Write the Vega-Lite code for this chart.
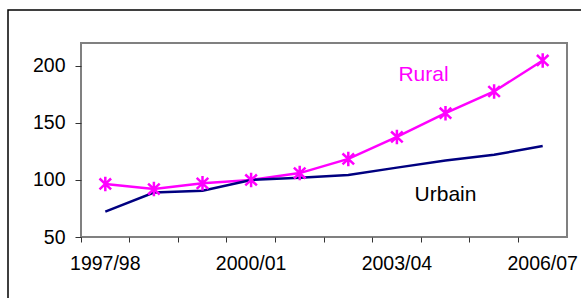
{
  "$schema": "https://vega.github.io/schema/vega-lite/v6.json",
  "width": 486,
  "height": 194,
  "autosize": "none",
  "padding": {"left": 81, "top": 43, "right": 14, "bottom": 61},
  "background": "white",
  "config": {
    "view": {"stroke": "#808080", "strokeWidth": 2},
    "font": "Liberation Sans"
  },
  "datasets": {
    "series": [
      {"year": "1997/98", "series": "Rural", "value": 96.5},
      {"year": "1998/99", "series": "Rural", "value": 92},
      {"year": "1999/00", "series": "Rural", "value": 97},
      {"year": "2000/01", "series": "Rural", "value": 100},
      {"year": "2001/02", "series": "Rural", "value": 106},
      {"year": "2002/03", "series": "Rural", "value": 118.4},
      {"year": "2003/04", "series": "Rural", "value": 137.7},
      {"year": "2004/05", "series": "Rural", "value": 158.5},
      {"year": "2005/06", "series": "Rural", "value": 177.5},
      {"year": "2006/07", "series": "Rural", "value": 204.7},
      {"year": "1997/98", "series": "Urbain", "value": 72.2},
      {"year": "1998/99", "series": "Urbain", "value": 88.9},
      {"year": "1999/00", "series": "Urbain", "value": 90.6},
      {"year": "2000/01", "series": "Urbain", "value": 100},
      {"year": "2001/02", "series": "Urbain", "value": 102},
      {"year": "2002/03", "series": "Urbain", "value": 104.4},
      {"year": "2003/04", "series": "Urbain", "value": 110.8},
      {"year": "2004/05", "series": "Urbain", "value": 117},
      {"year": "2005/06", "series": "Urbain", "value": 122},
      {"year": "2006/07", "series": "Urbain", "value": 129.8}
    ],
    "labels": [
      {"year": "2004/05", "series": "Rural", "value": 192, "label": "Rural"},
      {"year": "2004/05", "series": "Urbain", "value": 87, "label": "Urbain"}
    ],
    "frame": [{"id": 1}]
  },
  "layer": [
    {
      "data": {"name": "frame"},
      "mark": {"type": "rect", "fill": null, "fillOpacity": 0, "stroke": "black", "strokeWidth": 1.5, "clip": false},
      "encoding": {
        "x": {"value": -73},
        "x2": {"value": 620},
        "y": {"value": -33},
        "y2": {"value": 320}
      }
    },
    {
      "data": {"name": "series"},
      "mark": {"type": "line", "strokeWidth": 2.5},
      "encoding": {
        "x": {
          "field": "year", "type": "ordinal",
          "sort": ["1997/98","1998/99","1999/00","2000/01","2001/02","2002/03","2003/04","2004/05","2005/06","2006/07"],
          "scale": {"type": "band", "paddingInner": 0, "paddingOuter": 0},
          "axis": {
            "title": null, "domain": false, "bandPosition": 0,
            "tickColor": "#333333", "tickSize": 5, "tickWidth": 1,
            "labelAngle": 0, "labelFontSize": 19.5, "labelColor": "black", "labelPadding": 12,
            "labelExpr": "indexof(['1997/98','2000/01','2003/04','2006/07'], datum.value) >= 0 ? datum.value : ''"
          }
        },
        "y": {
          "field": "value", "type": "quantitative",
          "scale": {"domain": [50, 220], "nice": false, "zero": false},
          "axis": {
            "title": null, "domain": false, "grid": false, "values": [50, 100, 150, 200],
            "tickColor": "#333333", "tickSize": 6, "tickWidth": 1,
            "labelFontSize": 19.5, "labelColor": "black", "labelPadding": 10
          }
        },
        "color": {
          "field": "series", "type": "nominal",
          "scale": {"domain": ["Rural", "Urbain"], "range": ["#FF00FF", "#000080"]},
          "legend": null
        }
      }
    },
    {
      "data": {"name": "series"},
      "transform": [{"filter": "datum.series === 'Rural'"}],
      "mark": {
        "type": "point", "filled": false, "stroke": "#FF00FF", "strokeWidth": 2.5, "opacity": 1,
        "shape": "M0,-1L0,1M-0.8,-0.75L0.8,0.75M-0.8,0.75L0.8,-0.75", "size": 210
      },
      "encoding": {
        "x": {"field": "year", "type": "ordinal"},
        "y": {"field": "value", "type": "quantitative"}
      }
    },
    {
      "data": {"name": "labels"},
      "transform": [{"filter": "datum.series === 'Rural'"}],
      "mark": {"type": "text", "color": "#FF00FF", "fontSize": 21, "dx": -22, "align": "center", "baseline": "middle"},
      "encoding": {
        "x": {"field": "year", "type": "ordinal"},
        "y": {"field": "value", "type": "quantitative"},
        "text": {"field": "label"}
      }
    },
    {
      "data": {"name": "labels"},
      "transform": [{"filter": "datum.series === 'Urbain'"}],
      "mark": {"type": "text", "color": "black", "fontSize": 21, "align": "center", "baseline": "middle"},
      "encoding": {
        "x": {"field": "year", "type": "ordinal"},
        "y": {"field": "value", "type": "quantitative"},
        "text": {"field": "label"}
      }
    }
  ]
}
